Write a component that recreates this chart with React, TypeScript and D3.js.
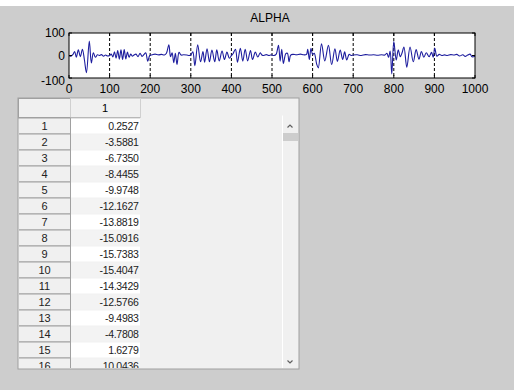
import React from "react";
import * as d3 from "d3";

// ALPHA signal, sampled at its turning points (index, value)
const sampleIndex = [
  0, 5, 10, 14, 18, 23, 28, 33, 38, 43, 50, 55, 60, 65, 70, 75, 80, 85, 90, 95,
  100, 104, 108, 112, 116, 120, 124, 128, 132, 136, 140, 144, 148, 152, 156, 160, 165, 170, 175, 180,
  185, 189, 194, 199, 205, 212, 220, 228, 235, 240, 246, 250, 254, 258, 262, 266, 271, 276, 282, 290,
  296, 300, 305, 310, 317, 324, 330, 334, 340, 346, 352, 359, 364, 370, 377, 383, 389, 395, 400, 404,
  410, 415, 422, 428, 434, 440, 447, 452, 459, 465, 471, 475, 480, 486, 492, 498, 505, 510, 516, 520,
  524, 528, 534, 538, 542, 546, 552, 560, 570, 578, 585, 588, 592, 596, 600, 604, 610, 614, 622, 630,
  639, 647, 655, 661, 668, 674, 679, 684, 690, 695, 700, 710, 720, 730, 740, 750, 760, 770, 778, 783,
  787, 791, 795, 800, 806, 811, 816, 820, 825, 832, 840, 848, 855, 862, 868, 874, 880, 887, 893, 897,
  901, 906, 912, 918, 925, 932, 940, 948, 955, 962, 970, 976, 982, 988, 993, 1000,
];
const sampleValue = [
  0, -3, 5, 18, -8, 25, -5, 28, -20, -76, 64, -33, 12, -8, 3, 0, 4, -3, 2, -2,
  0, 6, -6, 16, -12, 22, -16, 25, -18, 26, -15, 15, -8, 6, -3, 2, 6, -5, 10, -4,
  5, 12, -25, 0, 3, 6, 3, 5, 2, 10, 48, -5, 12, -32, 10, -40, 14, 2, 3, 2,
  0, 2, 16, -45, 48, -28, 18, -30, 30, -28, 24, -28, 25, -24, 20, -18, 15, -12, 0, 8,
  28, -30, 32, -25, 28, -24, 22, -18, 15, -7, 12, 2, 0, 4, 0, 3, 0, 5, 45, -25,
  28, -35, 8, 10, -28, 2, 5, 3, 6, 3, 5, 28, -18, 32, 5, 10, -38, -55, 52, -24,
  45, -40, 30, -26, 24, -18, 16, -20, 5, 0, 2, 3, 0, 4, 2, 3, 1, 3, 2, 10,
  -8, 20, -82, 62, -20, 25, -5, 10, 38, -52, 38, -28, 26, -16, 18, -8, 12, -5, 14, -8,
  33, -3, 5, 0, 3, 0, 4, 2, 5, -2, 3, -4, 2, 6, -6, -3,
];

const xTicks = [0, 100, 200, 300, 400, 500, 600, 700, 800, 900, 1000];
const yTicks = [-100, 0, 100];
const gridTicks = [100, 200, 300, 400, 500, 600, 700, 800, 900];

// uitable contents
const rowIds = [1, 2, 3, 4, 5, 6, 7, 8, 9, 10, 11, 12, 13, 14, 15, 16];
const alphaCells = [
  "0.2527", "-3.5881", "-6.7350", "-8.4455", "-9.9748", "-12.1627", "-13.8819", "-15.0916",
  "-15.7383", "-15.4047", "-14.3429", "-12.5766", "-9.4983", "-4.7808", "1.6279", "10.0436",
];
const columnNames = ["1"];

const W = 514;
const H = 390;
const plot = { left: 69, right: 475, top: 33, bottom: 78 };
const table = { left: 18, right: 299, top: 98, bottom: 369 };
const headerH = 19.5;
const rowH = 16;
const rowHeadW = 52;
const colW = 70;

export default function App() {
  const x = d3.scaleLinear().domain([0, 1000]).range([plot.left, plot.right]);
  const y = d3.scaleLinear().domain([-100, 100]).range([plot.bottom, plot.top]);
  const pts = sampleIndex.map((i, k) => [i, sampleValue[k]] as [number, number]);
  const path = d3
    .line<[number, number]>()
    .x((d) => x(d[0]))
    .y((d) => y(d[1]))
    .curve(d3.curveCatmullRom.alpha(0.5))(pts) as string;

  const font = "'Liberation Sans', Arial, sans-serif";
  const rowsTop = table.top + headerH;
  const dataX0 = table.left + rowHeadW;
  const dataX1 = dataX0 + colW;
  const sbX = 282;

  return (
    <svg
      width={W}
      height={H}
      style={{ position: "absolute", left: 0, top: 0, display: "block" }}
      fontFamily={font}
    >
      <defs>
        <clipPath id="plotClip">
          <rect x={plot.left} y={plot.top} width={plot.right - plot.left} height={plot.bottom - plot.top} />
        </clipPath>
        <clipPath id="rowsClip">
          <rect x={table.left + 1} y={rowsTop} width={table.right - table.left - 2} height={table.bottom - rowsTop - 1} />
        </clipPath>
      </defs>

      {/* figure background */}
      <rect x={0} y={0} width={W} height={H} fill="#cdcdcd" />
      <rect x={0} y={0} width={W} height={6} fill="#ffffff" />

      {/* axes */}
      <text x={x(500) - 2} y={22} fontSize={12} textAnchor="middle" fill="#000">ALPHA</text>
      <rect x={plot.left} y={plot.top} width={plot.right - plot.left} height={plot.bottom - plot.top} fill="#ffffff" />
      {gridTicks.map((t) => (
        <line key={"g" + t} x1={x(t)} x2={x(t)} y1={plot.top} y2={plot.bottom} stroke="#000" strokeWidth={1} strokeDasharray="3,2" />
      ))}
      <path d={path} fill="none" stroke="#1d1d9e" strokeWidth={1.1} clipPath="url(#plotClip)" strokeLinejoin="round" />
      {xTicks.map((t) => (
        <g key={"xt" + t}>
          <line x1={x(t)} x2={x(t)} y1={plot.bottom} y2={plot.bottom - 3} stroke="#000" />
          <line x1={x(t)} x2={x(t)} y1={plot.top} y2={plot.top + 3} stroke="#000" />
          <text x={x(t)} y={93} fontSize={12} textAnchor="middle" fill="#000">{t}</text>
        </g>
      ))}
      {yTicks.map((t) => (
        <g key={"yt" + t}>
          <line x1={plot.left} x2={plot.left + 3} y1={y(t)} y2={y(t)} stroke="#000" />
          <line x1={plot.right} x2={plot.right - 3} y1={y(t)} y2={y(t)} stroke="#000" />
          <text x={65} y={y(t) + (t === -100 ? 7 : 4)} fontSize={12} textAnchor="end" fill="#000">{t}</text>
        </g>
      ))}
      <rect x={plot.left} y={plot.top} width={plot.right - plot.left} height={plot.bottom - plot.top} fill="none" stroke="#000" strokeWidth={1} />

      {/* table */}
      <rect x={table.left} y={table.top} width={table.right - table.left} height={table.bottom - table.top} fill="#f0f0f0" stroke="#a0a0a0" strokeWidth={1} />
      {/* column header */}
      <rect x={table.left + 0.5} y={table.top + 0.5} width={rowHeadW} height={headerH - 0.5} fill="#f0f0f0" stroke="#a0a0a0" />
      <rect x={dataX0 + 0.5} y={table.top + 0.5} width={colW} height={headerH - 0.5} fill="#f0f0f0" stroke="#d0d0d0" />
      <line x1={table.left} x2={dataX1} y1={rowsTop + 0.5} y2={rowsTop + 0.5} stroke="#a0a0a0" />
      {columnNames.map((c, i) => (
        <text key={"c" + c} x={dataX0 + colW * i + colW / 2} y={table.top + 13.5} fontSize={11} textAnchor="middle" fill="#000">{c}</text>
      ))}
      <g clipPath="url(#rowsClip)">
        {rowIds.map((r, i) => {
          const top = rowsTop + i * rowH;
          return (
            <g key={"r" + r}>
              <rect x={table.left + 0.5} y={top + 0.5} width={rowHeadW} height={rowH} fill="#f0f0f0" stroke="#a0a0a0" />
              <rect x={dataX0 + 1} y={top + 1} width={colW - 1} height={rowH - 1} fill={i % 2 === 0 ? "#ffffff" : "#f3f3f3"} />
              <text x={table.left + rowHeadW / 2 + 0.5} y={top + 12} fontSize={11} textAnchor="middle" fill="#222">{r}</text>
              <text x={dataX1 - 1.5} y={top + 12} fontSize={10.5} letterSpacing={-0.3} textAnchor="end" fill="#222">{alphaCells[i]}</text>
            </g>
          );
        })}
      </g>

      {/* vertical scrollbar */}
      <rect x={sbX} y={rowsTop - 2} width={table.right - sbX - 1} height={table.bottom - rowsTop + 1} fill="#f0f0f0" />
      <line x1={sbX + 0.5} x2={sbX + 0.5} y1={rowsTop - 2} y2={table.bottom - 1} stroke="#ffffff" />
      <path d={`M${sbX + 5.5},${127.5} L${sbX + 8},${125} L${sbX + 10.5},${127.5}`} fill="none" stroke="#606060" strokeWidth={1.2} />
      <rect x={sbX + 1} y={133} width={table.right - sbX - 2} height={8} fill="#cdcdcd" />
      <path d={`M${sbX + 5.5},${table.bottom - 8.5} L${sbX + 8},${table.bottom - 6} L${sbX + 10.5},${table.bottom - 8.5}`} fill="none" stroke="#606060" strokeWidth={1.2} />
    </svg>
  );
}
